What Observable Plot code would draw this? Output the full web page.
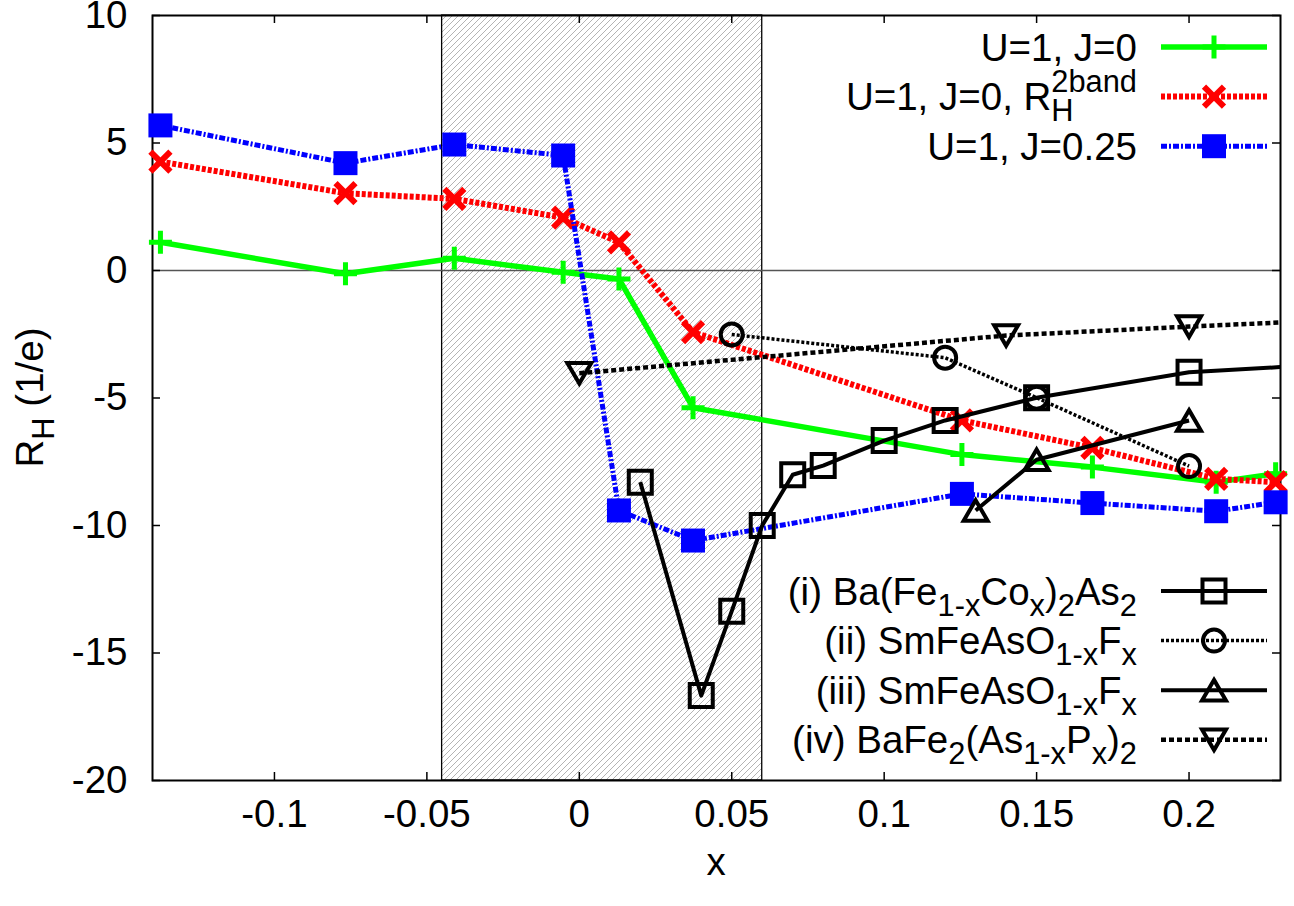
<!DOCTYPE html>
<html><head><meta charset="utf-8">
<script src="https://cdn.jsdelivr.net/npm/d3@7"></script>
<script src="https://cdn.jsdelivr.net/npm/@observablehq/plot@0.6"></script>
<style>
html,body{margin:0;padding:0;background:#fff;overflow:hidden;}
#chart{width:1294px;height:906px;}
</style></head><body><div id="chart"></div>
<script>
// ---------------- data ----------------
const xModel = [-0.1374, -0.0767, -0.0410, -0.0053, 0.0130, 0.0373, 0.1255, 0.1683, 0.2089, 0.2284];
const rhU1J0 = [1.11, -0.13, 0.48, -0.07, -0.33, -5.38, -7.22, -7.71, -8.30, -7.97];
const rhU1J0twoBand = [4.27, 3.03, 2.81, 2.07, 1.10, -2.42, -5.88, -6.96, -8.17, -8.30];
const rhU1J025 = [5.69, 4.21, 4.94, 4.51, -9.41, -10.59, -8.76, -9.12, -9.44, -9.09];

const xBaCo = [0.02, 0.04, 0.05, 0.06, 0.07, 0.08, 0.10, 0.12, 0.15, 0.20, 0.25];
const rhBaCo = [-8.30, -16.67, -13.36, -10.0, -8.01, -7.65, -6.67, -5.88, -4.99, -3.99, -3.65];
const xSmA = [0.05, 0.12, 0.15, 0.20];
const rhSmA = [-2.51, -3.42, -4.99, -7.67];
const xSmB = [0.13, 0.15, 0.20];
const rhSmB = [-9.41, -7.42, -5.88];
const xBaP = [0.0, 0.14, 0.20, 0.25];
const rhBaP = [-4.03, -2.55, -2.20, -1.93];

const shadedRange = [-0.045, 0.06];
const xDomain = [-0.14, 0.23];
const yDomain = [-20, 10];
const xTicks = [-0.1, -0.05, 0, 0.05, 0.1, 0.15, 0.2];
const xTickLabels = ["-0.1", "-0.05", "0", "0.05", "0.1", "0.15", "0.2"];
const yTicks = [-20, -15, -10, -5, 0, 5, 10];
const yTickLabels = ["-20", "-15", "-10", "-5", "0", "5", "10"];

// ---------------- styles ----------------
const FONT = '"Liberation Sans", Arial, Helvetica, sans-serif';
const FS = 38.5, SFS = 30.8;
const W = 1294, H = 906, ML = 152, MR = 14, MT = 15, MB = 126;
const PW = W - ML - MR, PH = H - MT - MB;

const mk = fn => ({draw(ctx, size) { const r = Math.sqrt(size / Math.PI); fn(ctx, r); }});
const symPlus = mk((c, r) => { c.moveTo(-r, 0); c.lineTo(r, 0); c.moveTo(0, -r); c.lineTo(0, r); });
const symTimes = mk((c, r) => { c.moveTo(-r, -r); c.lineTo(r, r); c.moveTo(-r, r); c.lineTo(r, -r); });
const symSquare = mk((c, r) => { c.rect(-r, -r, 2 * r, 2 * r); });
const symCircle = mk((c, r) => { c.moveTo(r, 0); c.arc(0, 0, r, 0, 2 * Math.PI); c.closePath(); });
const symTriUp = mk((c, r) => { c.moveTo(0, -0.86 * r); c.lineTo(r, 0.86 * r); c.lineTo(-r, 0.86 * r); c.closePath(); });
const symTriDown = mk((c, r) => { c.moveTo(0, 0.86 * r); c.lineTo(r, -0.86 * r); c.lineTo(-r, -0.86 * r); c.closePath(); });

const rows = (xs, ys) => xs.map((x, i) => ({x, y: ys[i]}));
const inside = d => d.x >= xDomain[0] && d.x <= xDomain[1];

const series = [
  {data: rows(xModel, rhU1J0), stroke: "#00ff00", sw: 5.5, dash: null,
   sym: symPlus, r: 11.5, fill: "none", mstroke: "#00ff00", msw: 5},
  {data: rows(xModel, rhU1J0twoBand), stroke: "#ff0000", sw: 6, dash: "4,2",
   sym: symTimes, r: 10, fill: "none", mstroke: "#ff0000", msw: 6},
  {data: rows(xModel, rhU1J025), stroke: "#0000ff", sw: 5, dash: "6,2,2,2",
   sym: symSquare, r: 12, fill: "#0000ff", mstroke: "none", msw: 0},
  {data: rows(xBaCo, rhBaCo), stroke: "#000", sw: 4, dash: null,
   sym: symSquare, r: 11.5, fill: "none", mstroke: "#000", msw: 4},
  {data: rows(xSmA, rhSmA), stroke: "#000", sw: 3.5, dash: "3,2",
   sym: symCircle, r: 11, fill: "none", mstroke: "#000", msw: 4},
  {data: rows(xSmB, rhSmB), stroke: "#000", sw: 4, dash: null,
   sym: symTriUp, r: 12, fill: "none", mstroke: "#000", msw: 4},
  {data: rows(xBaP, rhBaP), stroke: "#000", sw: 4.5, dash: "5,3",
   sym: symTriDown, r: 12, fill: "none", mstroke: "#000", msw: 4}
];

const seriesMarks = series.flatMap(s => [
  Plot.line(s.data, {x: "x", y: "y", stroke: s.stroke, strokeWidth: s.sw,
    strokeDasharray: s.dash, strokeLinecap: "butt", strokeLinejoin: "round", clip: "frame"}),
  Plot.dot(s.data.filter(inside), {x: "x", y: "y", symbol: s.sym, r: s.r, fill: s.fill,
    stroke: s.mstroke, strokeWidth: s.msw, strokeLinecap: "butt", strokeLinejoin: "miter"})
]);

const svg = Plot.plot({
  width: W, height: H,
  marginLeft: ML, marginRight: MR, marginTop: MT, marginBottom: MB,
  style: {fontFamily: FONT, background: "white", color: "black", overflow: "visible"},
  x: {domain: xDomain},
  y: {domain: yDomain},
  marks: [
    Plot.rect([shadedRange], {x1: d => d[0], x2: d => d[1], y1: () => yDomain[0], y2: () => yDomain[1],
      fill: "url(#hatch)", stroke: "black", strokeWidth: 1.3}),
    Plot.ruleY([0], {stroke: "#555", strokeWidth: 1.6}),
    Plot.frame({stroke: "black", strokeWidth: 2}),
    Plot.tickX(xTicks, {x: d => d, insetTop: PH - 8, stroke: "black", strokeWidth: 1.5}),
    Plot.tickX(xTicks, {x: d => d, insetBottom: PH - 8, stroke: "black", strokeWidth: 1.5}),
    Plot.tickY(yTicks, {y: d => d, insetRight: PW - 8, stroke: "black", strokeWidth: 1.5}),
    Plot.tickY(yTicks, {y: d => d, insetLeft: PW - 8, stroke: "black", strokeWidth: 1.5}),
    Plot.axisX({anchor: "bottom", ticks: xTicks, tickFormat: d => xTickLabels[xTicks.indexOf(d)],
      tickSize: 0, tickPadding: 19, fontSize: FS, label: null}),
    Plot.axisY({anchor: "left", ticks: yTicks, tickFormat: d => yTickLabels[yTicks.indexOf(d)],
      tickSize: 0, tickPadding: 25, fontSize: FS, label: null}),
    ...seriesMarks
  ]
});
document.getElementById("chart").appendChild(svg);

const root = d3.select(svg);
// hatch pattern
const defs = root.insert("defs", ":first-child");
const pat = defs.append("pattern").attr("id", "hatch").attr("patternUnits", "userSpaceOnUse")
  .attr("width", 6).attr("height", 6);
pat.append("rect").attr("width", 6).attr("height", 6).attr("fill", "white");
pat.append("path").attr("d", "M-1,1 L1,-1 M0,6 L6,0 M5,7 L7,5")
  .attr("stroke", "#b4b4b4").attr("stroke-width", 1);

// axis titles
const ylab = root.append("text").attr("font-family", FONT).attr("font-size", FS)
  .attr("text-anchor", "middle").attr("fill", "black")
  .attr("transform", `translate(43,${MT + PH / 2}) rotate(-90)`);
ylab.append("tspan").text("R");
ylab.append("tspan").attr("font-size", SFS).attr("dy", 11).text("H");
ylab.append("tspan").attr("dy", -11).text(" (1/e)");

root.append("text").attr("font-family", FONT).attr("font-size", FS).attr("text-anchor", "middle")
  .attr("fill", "black").attr("x", ML + PW / 2).attr("y", 875).text("x");

// legends
const mctx = document.createElement("canvas").getContext("2d");
const tw = (s, size) => { mctx.font = `${size}px "Liberation Sans"`; return mctx.measureText(s).width; };

const legendTop = [
  [["n", "U=1, J=0"]],
  [["n", "U=1, J=0, R"], ["sub", "H"], ["supBack", "2band", "H"]],
  [["n", "U=1, J=0.25"]]
];
const legendBottom = [
  [["n", "(i) Ba(Fe"], ["sub", "1-x"], ["n", "Co"], ["sub", "x"], ["n", ")"], ["sub", "2"], ["n", "As"], ["sub", "2"]],
  [["n", "(ii) SmFeAsO"], ["sub", "1-x"], ["n", "F"], ["sub", "x"]],
  [["n", "(iii) SmFeAsO"], ["sub", "1-x"], ["n", "F"], ["sub", "x"]],
  [["n", "(iv) BaFe"], ["sub", "2"], ["n", "(As"], ["sub", "1-x"], ["n", "P"], ["sub", "x"], ["n", ")"], ["sub", "2"]]
];

function drawLegend(entries, seriesList, y0, step) {
  const textRight = 1137, lx1 = 1161, lx2 = 1267, mx = 1214;
  entries.forEach((segs, i) => {
    const y = y0 + i * step;
    const s = seriesList[i];
    const t = root.append("text").attr("font-family", FONT).attr("font-size", FS)
      .attr("text-anchor", "end").attr("fill", "black").attr("x", textRight).attr("y", y + 13.5);
    let shift = 0;
    segs.forEach(seg => {
      const [k, str, back] = seg;
      const sp = t.append("tspan").text(str);
      if (k === "n") { sp.attr("dy", -shift); shift = 0; }
      else if (k === "sub") { sp.attr("font-size", SFS).attr("dy", 11 - shift); shift = 11; }
      else if (k === "supBack") {
        sp.attr("font-size", SFS).attr("dy", -18 - shift).attr("dx", -tw(back, SFS)); shift = -18;
      }
    });
    root.append("line").attr("x1", lx1).attr("x2", lx2).attr("y1", y).attr("y2", y)
      .attr("stroke", s.stroke).attr("stroke-width", s.sw)
      .attr("stroke-dasharray", s.dash).attr("stroke-linecap", "butt");
    const p = d3.path();
    s.sym.draw(p, s.r * s.r * Math.PI);
    root.append("path").attr("d", p.toString()).attr("transform", `translate(${mx},${y})`)
      .attr("fill", s.fill).attr("stroke", s.mstroke).attr("stroke-width", s.msw)
      .attr("stroke-linecap", "butt").attr("stroke-linejoin", "miter");
  });
}
drawLegend(legendTop, series.slice(0, 3), 47, 49.6);
drawLegend(legendBottom, series.slice(3), 591, 49.6);
</script></body></html>
